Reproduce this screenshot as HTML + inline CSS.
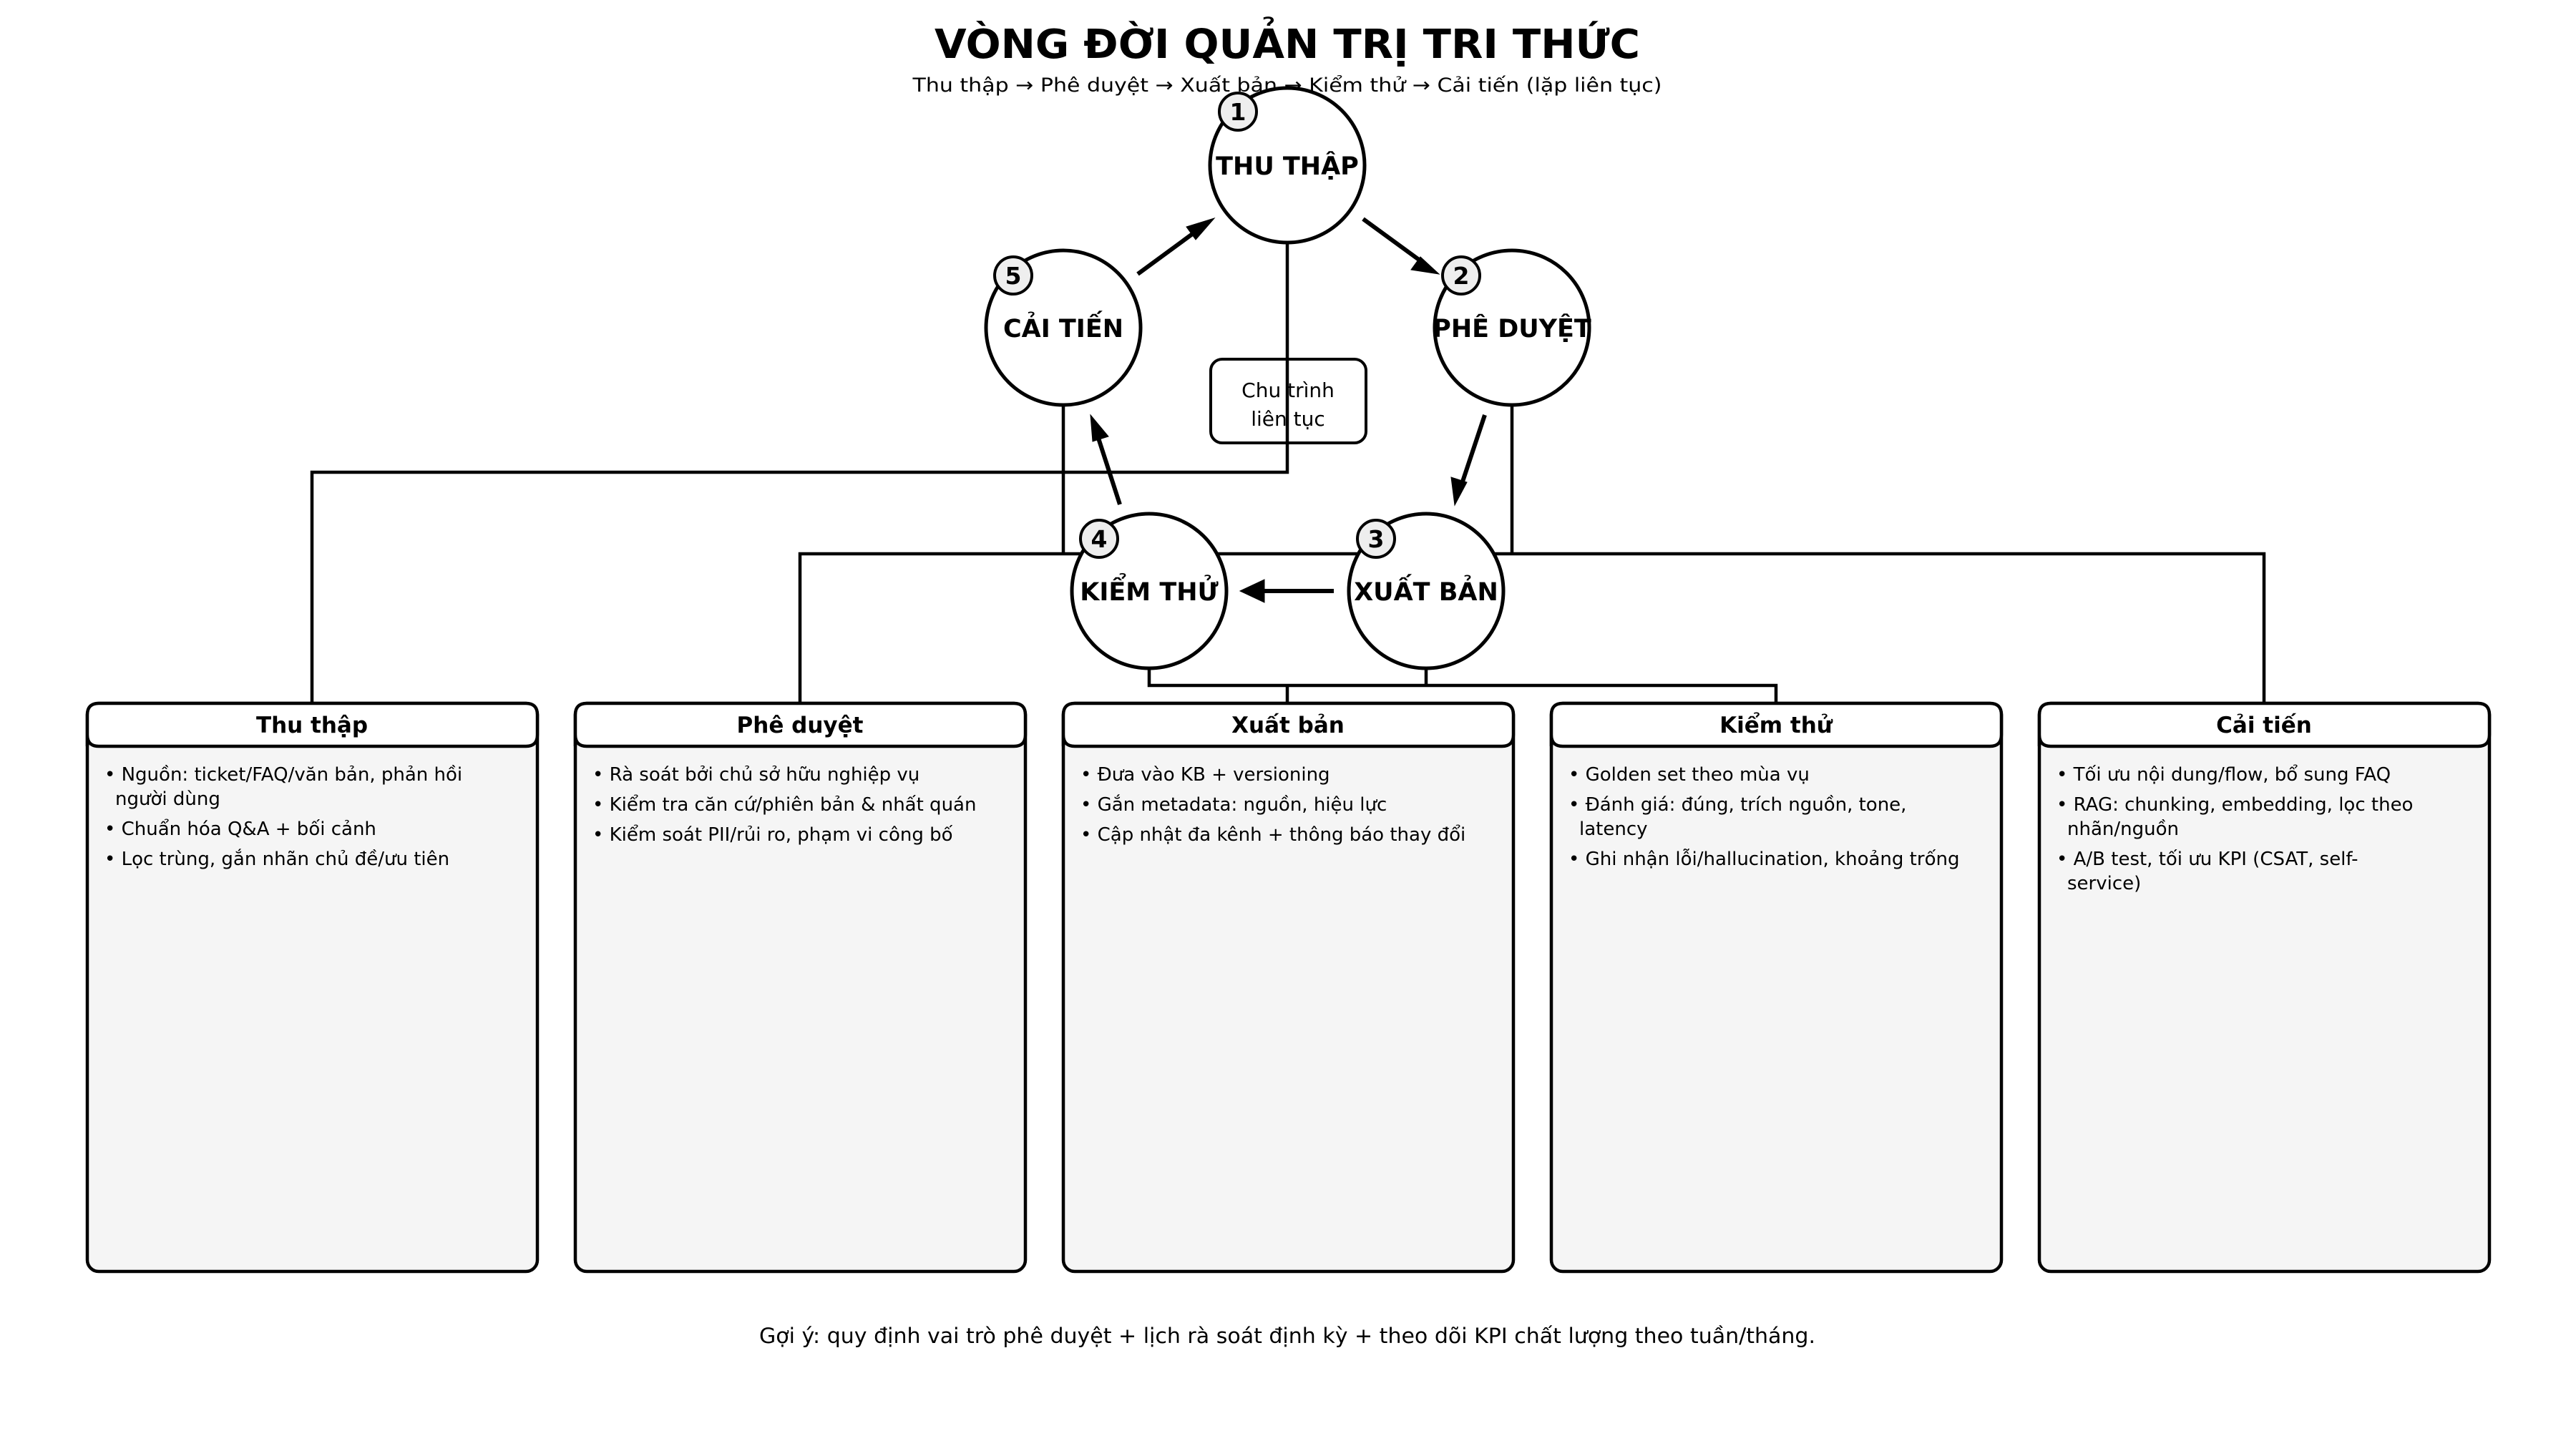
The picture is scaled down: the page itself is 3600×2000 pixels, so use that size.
<!DOCTYPE html>
<html><head><meta charset="utf-8"><style>
html,body{margin:0;padding:0;background:#fff;}
svg{display:block;font-family:"DejaVu Sans","Liberation Sans",sans-serif;}
</style></head><body>
<svg width="3600" height="2000" viewBox="0 0 3600 2000" xmlns="http://www.w3.org/2000/svg">
<defs>
<marker id="ah" markerWidth="10" markerHeight="10" refX="9" refY="5" orient="auto" markerUnits="userSpaceOnUse" viewBox="0 0 10 10">
</marker>
</defs>
<rect width="3600" height="2000" fill="#fff"/>
<text x="1799" y="81" text-anchor="middle" font-size="56" font-weight="bold" textLength="986" lengthAdjust="spacingAndGlyphs">VÒNG ĐỜI QUẢN TRỊ TRI THỨC</text>
<text x="1799" y="128" text-anchor="middle" font-size="27" textLength="1047" lengthAdjust="spacingAndGlyphs">Thu thập → Phê duyệt → Xuất bản → Kiểm thử → Cải tiến (lặp liên tục)</text>

<g stroke="#000" stroke-width="4.5" fill="none">
<!-- connectors -->
<polyline points="1799,339 1799,660 436,660 436,983"/>
<polyline points="1486,566 1486,774"/>
<polyline points="2113,566 2113,774"/>
<polyline points="1118,983 1118,774 3164,774 3164,983"/>
<polyline points="1606,934 1606,958 2482,958 2482,983"/>
<polyline points="1993,934 1993,958"/>
<polyline points="1799,958 1799,983"/>
</g>
<!-- center box -->
<rect x="1692" y="502" width="217" height="117" rx="16" fill="#fff" stroke="#000" stroke-width="4"/>
<line x1="1799" y1="500" x2="1799" y2="620" stroke="#000" stroke-width="4.5" opacity="0"/>
<text x="1800" y="555" text-anchor="middle" font-size="28">Chu trình</text>
<text x="1800" y="595" text-anchor="middle" font-size="28">liên tục</text>
<line x1="1799" y1="502" x2="1799" y2="619" stroke="#000" stroke-width="4.5"/>

<!-- circles -->
<g stroke="#000" stroke-width="5" fill="#fff">
<circle cx="1799" cy="231" r="108"/>
<circle cx="2113" cy="458" r="108"/>
<circle cx="1993" cy="826" r="108"/>
<circle cx="1606" cy="826" r="108"/>
<circle cx="1486" cy="458" r="108"/>
</g>
<g font-size="35" font-weight="bold" text-anchor="middle">
<text x="1799" y="244">THU THẬP</text>
<text x="2113" y="471">PHÊ DUYỆT</text>
<text x="1993" y="839">XUẤT BẢN</text>
<text x="1606" y="839">KIỂM THỬ</text>
<text x="1486" y="471">CẢI TIẾN</text>
</g>
<g stroke="#000" stroke-width="4" fill="#eee">
<circle cx="1730" cy="156" r="26"/>
<circle cx="2042" cy="385" r="26"/>
<circle cx="1923" cy="753" r="26"/>
<circle cx="1536" cy="753" r="26"/>
<circle cx="1416" cy="385" r="26"/>
</g>
<g font-size="33" font-weight="bold" text-anchor="middle">
<text x="1730" y="168">1</text>
<text x="2042" y="397">2</text>
<text x="1923" y="765">3</text>
<text x="1536" y="765">4</text>
<text x="1416" y="397">5</text>
</g>

<!-- arrows -->
<g stroke="#000" stroke-width="6" fill="#000">
<line x1="1590" y1="383" x2="1680" y2="317"/>
<polygon points="1697,305 1671,335 1658,317" stroke-width="1"/>
<line x1="1905" y1="306" x2="1994" y2="371"/>
<polygon points="2011,383 1972,377 1985,359" stroke-width="1"/>
<line x1="2075" y1="580" x2="2040" y2="685"/>
<polygon points="2033,706 2028,667 2050,674" stroke-width="1"/>
<line x1="1864" y1="826" x2="1752" y2="826"/>
<polygon points="1733,826 1767,810 1767,842" stroke-width="1"/>
<line x1="1565" y1="705" x2="1531" y2="600"/>
<polygon points="1524,580 1549,610 1527,617" stroke-width="1"/>
</g>

<!-- boxes -->
<g stroke="#000" stroke-width="4.5">
<g transform="translate(122,0)"><rect x="0" y="983" width="629" height="794" rx="16" fill="#f5f5f5"/><path d="M0,1043 V999 Q0,983 16,983 H613 Q629,983 629,999 V1027 Q629,1043 613,1043 H16 Q0,1043 0,1027" fill="#fff"/></g>
<g transform="translate(804,0)"><rect x="0" y="983" width="629" height="794" rx="16" fill="#f5f5f5"/><path d="M0,1043 V999 Q0,983 16,983 H613 Q629,983 629,999 V1027 Q629,1043 613,1043 H16 Q0,1043 0,1027" fill="#fff"/></g>
<g transform="translate(1486,0)"><rect x="0" y="983" width="629" height="794" rx="16" fill="#f5f5f5"/><path d="M0,1043 V999 Q0,983 16,983 H613 Q629,983 629,999 V1027 Q629,1043 613,1043 H16 Q0,1043 0,1027" fill="#fff"/></g>
<g transform="translate(2168,0)"><rect x="0" y="983" width="629" height="794" rx="16" fill="#f5f5f5"/><path d="M0,1043 V999 Q0,983 16,983 H613 Q629,983 629,999 V1027 Q629,1043 613,1043 H16 Q0,1043 0,1027" fill="#fff"/></g>
<g transform="translate(2850,0)"><rect x="0" y="983" width="629" height="794" rx="16" fill="#f5f5f5"/><path d="M0,1043 V999 Q0,983 16,983 H613 Q629,983 629,999 V1027 Q629,1043 613,1043 H16 Q0,1043 0,1027" fill="#fff"/></g>
</g>
<g font-size="31" font-weight="bold" text-anchor="middle">
<text x="436" y="1024">Thu thập</text>
<text x="1118" y="1024">Phê duyệt</text>
<text x="1800" y="1024">Xuất bản</text>
<text x="2482" y="1024">Kiểm thử</text>
<text x="3164" y="1024">Cải tiến</text>
</g>
<g font-size="26">
<text x="146" y="1091">• Nguồn: ticket/FAQ/văn bản, phản hồi</text>
<text x="161" y="1125">người dùng</text>
<text x="146" y="1167">• Chuẩn hóa Q&amp;A + bối cảnh</text>
<text x="146" y="1209">• Lọc trùng, gắn nhãn chủ đề/ưu tiên</text>

<text x="828" y="1091">• Rà soát bởi chủ sở hữu nghiệp vụ</text>
<text x="828" y="1133">• Kiểm tra căn cứ/phiên bản &amp; nhất quán</text>
<text x="828" y="1175">• Kiểm soát PII/rủi ro, phạm vi công bố</text>

<text x="1510" y="1091">• Đưa vào KB + versioning</text>
<text x="1510" y="1133">• Gắn metadata: nguồn, hiệu lực</text>
<text x="1510" y="1175">• Cập nhật đa kênh + thông báo thay đổi</text>

<text x="2192" y="1091">• Golden set theo mùa vụ</text>
<text x="2192" y="1133">• Đánh giá: đúng, trích nguồn, tone,</text>
<text x="2207" y="1167">latency</text>
<text x="2192" y="1209">• Ghi nhận lỗi/hallucination, khoảng trống</text>

<text x="2874" y="1091">• Tối ưu nội dung/flow, bổ sung FAQ</text>
<text x="2874" y="1133">• RAG: chunking, embedding, lọc theo</text>
<text x="2889" y="1167">nhãn/nguồn</text>
<text x="2874" y="1209">• A/B test, tối ưu KPI (CSAT, self-</text>
<text x="2889" y="1243">service)</text>
</g>
<text x="1799" y="1877" text-anchor="middle" font-size="29" textLength="1476" lengthAdjust="spacingAndGlyphs">Gợi ý: quy định vai trò phê duyệt + lịch rà soát định kỳ + theo dõi KPI chất lượng theo tuần/tháng.</text>
</svg>
</body></html>
